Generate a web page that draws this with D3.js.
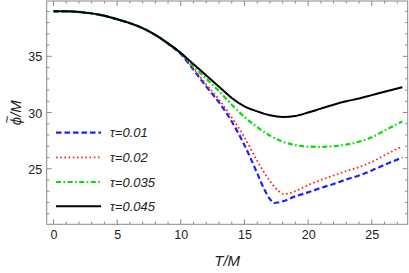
<!DOCTYPE html>
<html><head><meta charset="utf-8">
<script src="https://cdn.jsdelivr.net/npm/d3@7"></script>
<style>body{margin:0;background:#fff}svg{display:block}</style>
</head><body>
<svg id="c" width="409" height="273"></svg>
<script>
const T_black = [0,1,2,3,4,5,6,7,8,9,10,11,12,13,14,15,16,17,18,19,20,21,22,23,24,25,26,27.4];
const phi_black = [39.0,39.0,38.95,38.82,38.6,38.3,37.95,37.5,36.9,36.15,35.3,34.3,33.3,32.3,31.3,30.55,30.1,29.75,29.6,29.7,30.0,30.35,30.7,31.0,31.25,31.55,31.85,32.25];
const T_blue = [0,1,2,3,4,5,6,7,8,9,10,11,12,13,14,15,16,16.5,17,17.3,18,19,20,21,22,23,24,25,26,27.4];
const phi_blue = [39.0,39.0,38.95,38.82,38.6,38.3,37.95,37.5,36.9,36.1,35.2,33.8,32.3,30.9,29.2,27.1,24.6,23.3,22.3,21.95,22.1,22.55,22.9,23.3,23.65,24.05,24.4,24.85,25.35,26.0];
const T_red = [0,1,2,3,4,5,6,7,8,9,10,11,12,13,14,15,16,17,17.6,18.1,18.5,19,20,21,22,23,24,25,26,27.4];
const phi_red = [39.0,39.0,38.95,38.82,38.6,38.3,37.95,37.5,36.9,36.1,35.25,33.9,32.5,31.15,29.55,27.8,25.7,23.9,23.1,22.75,22.8,23.0,23.55,24.0,24.4,24.8,25.15,25.6,26.2,27.0];
const T_green = [0,1,2,3,4,5,6,7,8,9,10,11,12,13,14,15,16,17,18,19,20,21,22,23,24,25,26,27.4];
const phi_green = [39.0,39.0,38.95,38.82,38.6,38.3,37.95,37.5,36.9,36.12,35.3,34.1,33.0,31.9,30.7,29.6,28.7,27.95,27.4,27.1,26.97,26.95,27.0,27.15,27.4,27.8,28.4,29.2];
const labels = ["τ=0.01","τ=0.02","τ=0.035","τ=0.045"];
const xTicks = [0,5,10,15,20,25];
const yTicks = [25,30,35];

const svg = d3.select("#c");
const L=46.7, R=407.7, Tp=1, B=224.3;
const x = d3.scaleLinear().domain([-0.534,27.82]).range([L,R]);
const y = d3.scaleLinear().domain([20.06,39.92]).range([B,Tp]);

const series = [
  {T:T_blue, v:phi_blue, color:"#1f1fff", dash:"5.5,3", w:2.2},
  {T:T_red, v:phi_red, color:"#ff2020", dash:"1.6,2.6", w:1.8},
  {T:T_green, v:phi_green, color:"#00e000", dash:"5,2.5,1.6,2.5", w:2.2},
  {T:T_black, v:phi_black, color:"#000", dash:null, w:2}
];

svg.append("clipPath").attr("id","cp").append("rect")
  .attr("x",L).attr("y",Tp).attr("width",R-L).attr("height",B-Tp);

const line = d3.line().x(d=>x(d[0])).y(d=>y(d[1])).curve(d3.curveMonotoneX);
const g = svg.append("g").attr("clip-path","url(#cp)");
series.forEach(s=>{
  g.append("path").datum(s.T.map((t,i)=>[t,s.v[i]]))
   .attr("d",line).attr("fill","none").attr("stroke",s.color)
   .attr("stroke-width",s.w).attr("stroke-dasharray",s.dash);
});

const frameColor="#8a8a8a";
svg.append("rect").attr("x",L).attr("y",Tp).attr("width",R-L).attr("height",B-Tp)
  .attr("fill","none").attr("stroke",frameColor).attr("stroke-width",1);

const minorX = d3.range(0,28,1).filter(v=>!xTicks.includes(v));
const minorY = d3.range(21,40,1).filter(v=>!yTicks.includes(v));
function ticksX(vals,len){
  vals.forEach(v=>{
    svg.append("line").attr("x1",x(v)).attr("x2",x(v)).attr("y1",B).attr("y2",B-len).attr("stroke",frameColor);
    svg.append("line").attr("x1",x(v)).attr("x2",x(v)).attr("y1",Tp).attr("y2",Tp+len).attr("stroke",frameColor);
  });
}
function ticksY(vals,len){
  vals.forEach(v=>{
    svg.append("line").attr("y1",y(v)).attr("y2",y(v)).attr("x1",L).attr("x2",L+len).attr("stroke",frameColor);
    svg.append("line").attr("y1",y(v)).attr("y2",y(v)).attr("x1",R).attr("x2",R-len).attr("stroke",frameColor);
  });
}
ticksX(xTicks,5); ticksX(minorX,2.7);
ticksY(yTicks,5); ticksY(minorY,2.7);

const font="'Liberation Sans', Arial, sans-serif";
const xAxis = d3.axisBottom(x).tickValues(xTicks).tickSize(0).tickPadding(0);
const ga = svg.append("g").attr("transform",`translate(0,${B})`).call(xAxis);
ga.select(".domain").remove();
ga.selectAll("text").attr("dy","15").attr("y",0).attr("font-size","12.5px").attr("font-family",font).attr("fill","#222");
const yAxis = d3.axisLeft(y).tickValues(yTicks).tickSize(0).tickPadding(0);
const gy = svg.append("g").attr("transform",`translate(${L-4.5},0)`).call(yAxis);
gy.select(".domain").remove();
gy.selectAll("text").attr("font-size","12.5px").attr("font-family",font).attr("fill","#222").attr("dy","0.36em");

svg.append("text").attr("x",(L+R)/2).attr("y",266).attr("text-anchor","middle")
  .attr("font-family",font).attr("font-style","italic").attr("font-size","15px").attr("fill","#222").text("T/M");
const yl = svg.append("g").attr("transform",`translate(21,${(Tp+B)/2}) rotate(-90)`);
const ylt = yl.append("text").attr("text-anchor","middle")
  .attr("font-family",font).attr("font-style","italic").attr("font-size","15px").attr("fill","#222").text("ϕ/M");
const tw = ylt.node().getComputedTextLength();
const pw = ylt.node().getSubStringLength(0,1);
yl.append("text").attr("x",-tw/2+pw/2+1.5).attr("y",-10).attr("text-anchor","middle")
  .attr("font-family",font).attr("font-size","13px").attr("fill","#222").text("~");

const legY = [132.7,157.3,182,206.3];
series.forEach((s,i)=>{
  svg.append("line").attr("x1",56).attr("x2",101).attr("y1",legY[i]).attr("y2",legY[i])
    .attr("stroke",s.color).attr("stroke-width",s.w).attr("stroke-dasharray",s.dash);
  svg.append("text").attr("x",110).attr("y",legY[i]).attr("dy","0.36em")
    .attr("font-family",font).attr("font-style","italic").attr("font-size","13px").attr("fill","#222").text(labels[i]);
});
</script>
</body></html>
